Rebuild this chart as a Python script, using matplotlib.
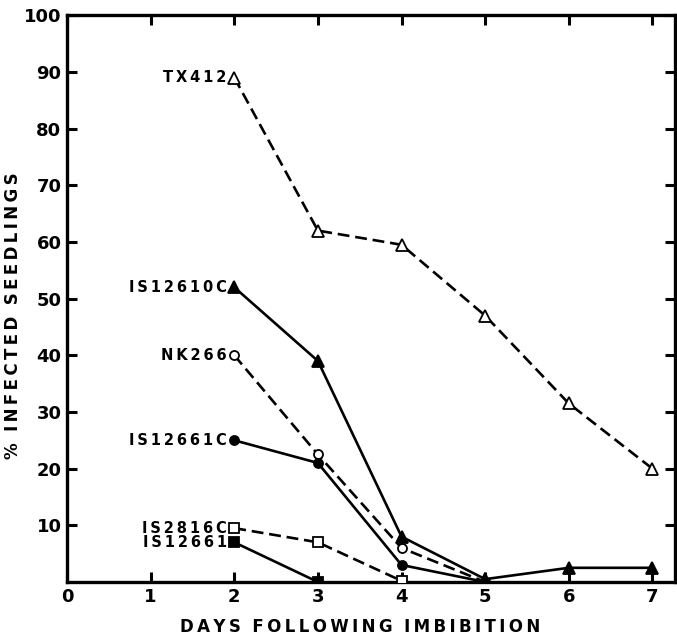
import matplotlib
matplotlib.use("Agg")
import matplotlib.pyplot as plt

days = [2, 3, 4, 5, 6, 7]

tx412 = [89, 62, 59.5, 47, 31.5, 20]
is12610c = [52, 39, 8, 0.5, 2.5, 2.5]
nk266 = [40, 22.5, 6, 0]
is12661c = [25, 21, 3, 0]
is2816c = [9.5, 7, 0.2]
is12661 = [7, 0]

# name, values, marker, filled, dashed
series = [
    ("TX412", tx412, "^", False, True),
    ("IS12610C", is12610c, "^", True, False),
    ("NK266", nk266, "o", False, True),
    ("IS12661C", is12661c, "o", True, False),
    ("IS2816C", is2816c, "s", False, True),
    ("IS12661", is12661, "s", True, False),
]
marker_size = {"^": 8.5, "o": 6.5, "s": 6.5}

THIN = "\u2009"


def spaced(text):
    # letter-spaced caps like the original typesetting
    words = text.split(" ")
    return "  ".join(THIN.join(w) for w in words)


fig = plt.figure(figsize=(6.77, 6.35), dpi=100)
ax = fig.add_axes([0.099, 0.0835, 0.898, 0.8925])

for name, vals, mk, filled, dashed in series:
    x = days[:len(vals)]
    ax.plot(x, vals, color="black", lw=1.9,
            linestyle=(0, (4.5, 2.2)) if dashed else "-",
            marker=mk, markersize=marker_size[mk],
            markerfacecolor="black" if filled else "white",
            markeredgecolor="black", markeredgewidth=1.3, zorder=3)
    ax.text(x[0] - 0.09, vals[0], spaced(name), ha="right", va="center",
            fontsize=10.5, fontweight="bold")

ax.set_xlim(0, 7.27)
ax.set_ylim(0, 100)
ax.set_xticks(range(0, 8))
ax.set_yticks([10, 20, 30, 40, 50, 60, 70, 80, 90, 100])

for s in ax.spines.values():
    s.set_linewidth(2.4)
ax.tick_params(direction="in", length=7, width=2.2, labelsize=13,
               top=True, right=True, pad=4)
for lbl in ax.get_xticklabels() + ax.get_yticklabels():
    lbl.set_fontweight("bold")

ax.set_xlabel(spaced("DAYS FOLLOWING IMBIBITION"),
              fontsize=12, fontweight="bold")
ax.set_ylabel(spaced("% INFECTED SEEDLINGS"),
              fontsize=12, fontweight="bold")
ax.xaxis.set_label_coords(0.482, -0.063)
ax.yaxis.set_label_coords(-0.074, 0.47)

fig.savefig("out.png", dpi=100)
